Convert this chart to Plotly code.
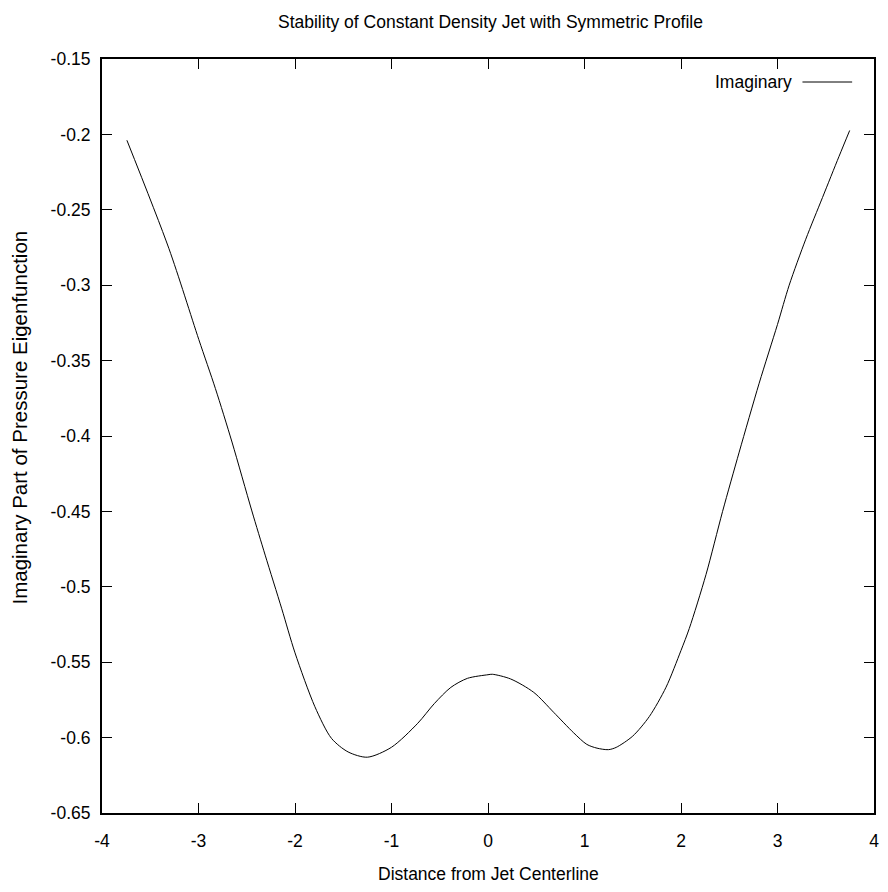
import plotly.graph_objects as go

# Data
x_vals = [-3.742, -3.306, -2.997, -2.825, -2.653, -2.447, -2.309, -2.137, -2.0,
          -1.794, -1.622, -1.45, -1.25, -1.0, -0.728, -0.557, -0.385, -0.213,
          0.0, 0.045, 0.234, 0.474, 0.68, 0.887, 1.024, 1.13, 1.247, 1.328, 1.5,
          1.672, 1.845, 2.0, 2.086, 2.259, 2.431, 2.603, 2.81, 3.0, 3.121,
          3.293, 3.466, 3.638, 3.748]
y_vals = [-0.2039, -0.2758, -0.336, -0.3685, -0.404, -0.4497, -0.479, -0.5146, -0.5438,
          -0.5795, -0.6005, -0.6095, -0.613, -0.6064, -0.5905, -0.5775, -0.5667, -0.5607,
          -0.5583, -0.558, -0.5611, -0.570, -0.5832, -0.5968, -0.6045, -0.607, -0.608, -0.6065, -0.599,
          -0.586, -0.5666, -0.5422, -0.5276, -0.4919, -0.450, -0.4107, -0.365, -0.326, -0.300,
          -0.2695, -0.2419, -0.2145, -0.1974]

x_ticks = [-4, -3, -2, -1, 0, 1, 2, 3, 4]
x_tick_text = ["-4", "-3", "-2", "-1", "0", "1", "2", "3", "4"]
y_ticks = [-0.65, -0.6, -0.55, -0.5, -0.45, -0.4, -0.35, -0.3, -0.25, -0.2, -0.15]
y_tick_text = ["-0.65", "-0.6", "-0.55", "-0.5", "-0.45", "-0.4", "-0.35", "-0.3", "-0.25", "-0.2", "-0.15"]

series_name = "Imaginary"
title_text = "Stability of Constant Density Jet with Symmetric Profile"
x_title = "Distance from Jet Centerline"
y_title = "Imaginary Part of Pressure Eigenfunction"

FONT = "Liberation Sans, Arial, sans-serif"
FS = 17.5

W, H = 888, 892
L, R, T, B = 102, 9, 59, 79
pw, ph = W - L - R, H - T - B

fig = go.Figure()
fig.add_trace(go.Scatter(x=x_vals, y=y_vals, mode="lines", name=series_name,
                         line=dict(color="black", width=1, shape="spline", smoothing=0.8),
                         showlegend=False))

axis_common = dict(showgrid=False, zeroline=False, showline=True, linecolor="black",
                   linewidth=2, ticks="inside", ticklen=10, tickwidth=1, tickcolor="black",
                   mirror="allticks", tickfont=dict(family=FONT, size=FS, color="black"))

fig.update_xaxes(range=[-4, 4], tickvals=x_ticks, ticktext=x_tick_text,
                 ticklabelstandoff=11, **axis_common)
fig.update_yaxes(range=[-0.65, -0.15], tickvals=y_ticks, ticktext=y_tick_text,
                 ticklabelstandoff=6, **axis_common)

def px_x(p):
    return (p - L) / pw

def px_y(p):
    return (H - B - p) / ph

fig.add_annotation(text=series_name, xref="paper", yref="paper", x=px_x(798), y=px_y(82),
                   xanchor="right", yanchor="middle", showarrow=False,
                   font=dict(family=FONT, size=FS, color="black"))
fig.add_shape(type="line", xref="paper", yref="paper", x0=px_x(807), x1=px_x(857),
              y0=px_y(82), y1=px_y(82), line=dict(color="black", width=1))

fig.add_annotation(text=x_title, xref="paper", yref="paper", x=0.5, y=px_y(874),
                   xanchor="center", yanchor="middle", showarrow=False,
                   font=dict(family=FONT, size=FS, color="black"))
fig.add_annotation(text=y_title, xref="paper", yref="paper", x=px_x(18), y=px_y(418),
                   xanchor="center", yanchor="middle", showarrow=False, textangle=-90,
                   font=dict(family=FONT, size=20.5, color="black"))

fig.update_layout(
    width=W, height=H,
    margin=dict(l=L, r=R, t=T, b=B),
    paper_bgcolor="white", plot_bgcolor="white",
    title=dict(text=title_text, x=(L + 0.5 * pw) / W, xanchor="center",
               y=1 - 22 / H, yanchor="middle",
               font=dict(family=FONT, size=FS, color="black")),
)

fig.write_html("out.html")
